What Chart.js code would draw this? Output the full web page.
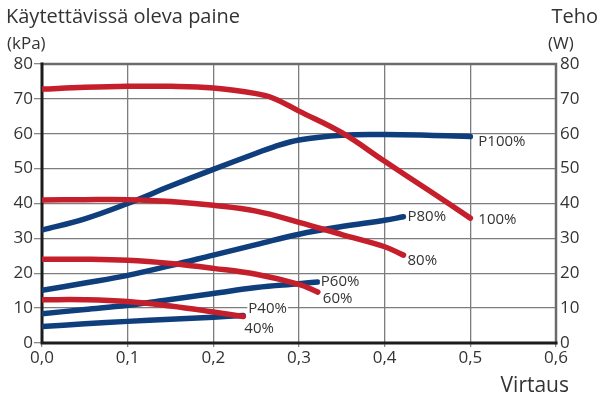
<!DOCTYPE html>
<html>
<head>
<meta charset="utf-8">
<script src="https://cdn.jsdelivr.net/npm/chart.js@4.4.1/dist/chart.umd.min.js"></script>
<style>
  html, body { margin: 0; padding: 0; background: #fff; }
  #wrap { width: 598px; height: 398px; position: relative; }
</style>
</head>
<body>
<div id="wrap"><canvas id="pumpChart"></canvas></div>
<script>
// --- Mittausdata: virtaus (x) ja paine / teho (y) ---
const flow100 = [0, 0.05, 0.1, 0.15, 0.2, 0.25, 0.27, 0.3, 0.35, 0.4, 0.45, 0.5];
const pressure100 = [72.8, 73.3, 73.6, 73.6, 73.1, 71.5, 70.2, 66.5, 60.3, 52.1, 44.0, 35.8];
const power100 = [32.4, 35.6, 40.0, 45.0, 49.8, 54.4, 56.2, 58.2, 59.6, 59.8, 59.6, 59.2];

const flow80 = [0, 0.05, 0.1, 0.15, 0.2, 0.25, 0.3, 0.35, 0.4, 0.422];
const pressure80 = [41.0, 41.1, 41.1, 40.6, 39.5, 37.8, 34.6, 31.1, 27.6, 25.2];
const power80 = [15.1, 17.2, 19.4, 22.2, 25.2, 28.2, 31.2, 33.4, 35.2, 36.2];

const flow60 = [0, 0.05, 0.1, 0.15, 0.2, 0.25, 0.3, 0.322];
const pressure60 = [24.0, 24.0, 23.7, 22.8, 21.4, 19.7, 16.8, 14.6];
const power60 = [8.4, 9.6, 10.8, 12.5, 14.2, 15.9, 17.0, 17.5];

const flow40 = [0, 0.05, 0.1, 0.15, 0.2, 0.235];
const pressure40 = [12.4, 12.4, 11.9, 10.6, 8.9, 7.6];
const power40 = [4.7, 5.5, 6.2, 6.8, 7.4, 7.9];

const xTicks = [0, 0.1, 0.2, 0.3, 0.4, 0.5, 0.6];
const yTicks = [0, 10, 20, 30, 40, 50, 60, 70, 80];

const RED = '#c51f2b';
const BLUE = '#0f3e7d';
const TEXT = '#333333';
const GRID = '#7d7d7d';
const FONT = "'Open Sans', sans-serif";

const toPoints = (xs, ys) => xs.map((x, i) => ({ x: x, y: ys[i] }));

// label: teksti käyrän päässä, dx/dy siirto päätepisteestä
const makeLine = (xs, ys, color, label, dx, dy, order) => ({
    data: toPoints(xs, ys),
    borderColor: color,
    borderWidth: 5.5,
    borderCapStyle: 'round',
    borderJoinStyle: 'round',
    pointRadius: 0,
    tension: 0.4,
    fill: false,
    order: order,
    endLabel: { text: label, dx: dx, dy: dy }
});

const datasets = [
    makeLine(flow100, pressure100, RED, '100%', 8, 2, 0),
    makeLine(flow80, pressure80, RED, '80%', 4, 6, 0),
    makeLine(flow60, pressure60, RED, '60%', 5, 7, 0),
    makeLine(flow40, pressure40, RED, '40%', 1, 12, 0),
    makeLine(flow100, power100, BLUE, 'P100%', 8, 5, 1),
    makeLine(flow80, power80, BLUE, 'P80%', 4, 0, 1),
    makeLine(flow60, power60, BLUE, 'P60%', 3, 0, 1),
    makeLine(flow40, power40, BLUE, 'P40%', 5, -7, 1)
];

// Kehys: vasen ja ala tumma, ylä ja oikea harmaa
const framePlugin = {
    id: 'frame',
    beforeDatasetsDraw(chart) {
        const { ctx, chartArea: a } = chart;
        ctx.save();
        ctx.lineCap = 'square';
        ctx.strokeStyle = '#6b6b6b';
        ctx.lineWidth = 2.5;
        ctx.beginPath();
        ctx.moveTo(a.left, a.top);
        ctx.lineTo(a.right, a.top);
        ctx.lineTo(a.right, a.bottom);
        ctx.stroke();
        ctx.strokeStyle = '#1c1c1c';
        ctx.lineWidth = 3;
        ctx.beginPath();
        ctx.moveTo(a.left, a.top);
        ctx.lineTo(a.left, a.bottom);
        ctx.lineTo(a.right, a.bottom);
        ctx.stroke();
        ctx.restore();
    }
};

// Käyrien nimet viivojen päihin
const endLabelPlugin = {
    id: 'endLabels',
    afterDatasetsDraw(chart) {
        const { ctx } = chart;
        const xs = chart.scales.x, ys = chart.scales.y;
        ctx.save();
        ctx.font = '15px ' + FONT;
        ctx.textBaseline = 'middle';
        ctx.textAlign = 'left';
        chart.data.datasets.forEach(ds => {
            const last = ds.data[ds.data.length - 1];
            const px = xs.getPixelForValue(last.x) + ds.endLabel.dx;
            const py = ys.getPixelForValue(last.y) + ds.endLabel.dy;
            const w = ctx.measureText(ds.endLabel.text).width;
            ctx.fillStyle = '#fff';
            ctx.fillRect(px - 1, py - 6, w + 2, 12);
            ctx.fillStyle = TEXT;
            ctx.fillText(ds.endLabel.text, px, py);
        });
        ctx.restore();
    }
};

// Akselien otsikot
const titlePlugin = {
    id: 'titles',
    afterDraw(chart) {
        const { ctx } = chart;
        ctx.save();
        ctx.fillStyle = TEXT;
        ctx.textBaseline = 'middle';
        ctx.font = '20px ' + FONT;
        ctx.textAlign = 'left';
        ctx.fillText('Käytettävissä oleva paine', 6, 17);
        ctx.textAlign = 'right';
        ctx.fillText('Teho', 598, 17);
        ctx.font = '21px ' + FONT;
        ctx.fillText('Virtaus', 569, 386);
        ctx.font = '17px ' + FONT;
        ctx.textAlign = 'left';
        ctx.fillText('(kPa)', 7, 44);
        ctx.fillText('(W)', 548, 44);
        ctx.restore();
    }
};

const tickFont = { family: FONT, size: 17 };
const fmt = v => v.toFixed(1).replace('.', ',');

new Chart(document.getElementById('pumpChart'), {
    type: 'line',
    data: { datasets: datasets },
    options: {
        responsive: true,
        maintainAspectRatio: false,
        animation: false,
        layout: { padding: { top: 64, left: 0, right: 0, bottom: 0 } },
        plugins: { legend: { display: false }, tooltip: { enabled: false } },
        scales: {
            x: {
                type: 'linear',
                min: 0,
                max: 0.6,
                afterBuildTicks: s => { s.ticks = xTicks.map(v => ({ value: v })); },
                afterFit: s => { s.height = 55; },
                border: { display: false },
                grid: { color: GRID, lineWidth: 1.3, tickLength: 4, tickColor: '#888' },
                ticks: { color: TEXT, font: tickFont, padding: 1, callback: v => fmt(v), maxRotation: 0 }
            },
            y: {
                position: 'left',
                min: 0,
                max: 80,
                afterBuildTicks: s => { s.ticks = yTicks.map(v => ({ value: v })); },
                afterFit: s => { s.width = 42; },
                border: { display: false },
                grid: { color: GRID, lineWidth: 1.3, tickLength: 8, tickColor: '#888' },
                ticks: { color: TEXT, font: tickFont, padding: 1 }
            },
            y2: {
                position: 'right',
                min: 0,
                max: 80,
                afterBuildTicks: s => { s.ticks = yTicks.map(v => ({ value: v })); },
                afterFit: s => { s.width = 42; },
                border: { display: false },
                grid: { drawOnChartArea: false, drawTicks: false },
                ticks: { color: TEXT, font: tickFont, padding: 4 }
            }
        }
    },
    plugins: [framePlugin, endLabelPlugin, titlePlugin]
});
</script>
</body>
</html>
